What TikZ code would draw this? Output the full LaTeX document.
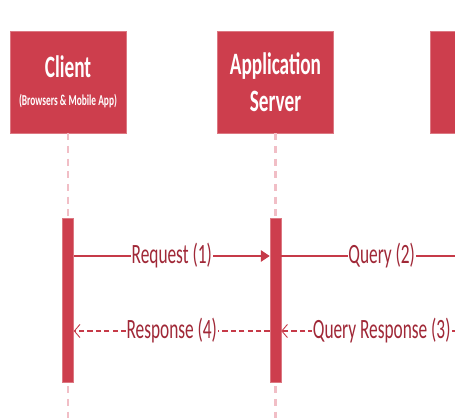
\documentclass[tikz,border=0pt]{standalone}
\usepackage{fontspec}
\setmainfont{Carlito}[FakeStretch=0.62]
\usetikzlibrary{arrows.meta}

\definecolor{boxred}{RGB}{205,62,77}
\definecolor{lblred}{RGB}{160,40,55}
\definecolor{msgred}{RGB}{198,58,72}
\definecolor{lifepink}{RGB}{241,190,198}

\begin{document}
\begin{tikzpicture}[x=0.02cm, y=-0.02cm, node distance=4.15cm,
    actor/.style={rectangle, fill=boxred, draw=boxred!70!white, line width=0.4pt, text=white,
        minimum width=2.32cm, minimum height=2.04cm, align=center,
        font=\bfseries\fontsize{17.7}{21}\selectfont},
    bar/.style={rectangle, fill=boxred, draw=boxred!70!white, line width=0.3pt,
        minimum width=0.22cm, minimum height=3.28cm, inner sep=0pt},
    lifeline/.style={lifepink, line width=1.2pt, dash pattern=on 4pt off 3.2pt},
    call/.style={msgred, line width=0.6pt, -{Triangle[length=5pt, width=6.5pt]}},
    reply/.style={msgred, line width=0.6pt, dash pattern=on 3pt off 1.8pt,
        -{Straight Barb[length=3.2pt, width=7.5pt, line width=0.5pt]}},
    lbl/.style={fill=white, text=lblred, inner sep=0.5pt,
        font=\fontsize{15.9}{19}\selectfont}]
    \useasboundingbox (0,0) rectangle (455,418);
    \clip (0,0) rectangle (455,418);

    % Uczestnicy
    \node[actor] (client) at (68,82) {Client\\[-5pt]{\fontsize{8.6}{9}\selectfont (Browsers \& Mobile App)}};
    \node[actor] (server) [right of=client] {Application\\Server};
    \node[actor] (db) [right of=server, node distance=4.25cm] {};

    % Linie życia
    \coordinate (bottom) at (0,418);
    \draw[lifeline] (client.south) -- (client.south |- bottom);
    \draw[lifeline] (server.south) -- (server.south |- bottom);
    \draw[lifeline] (db.south) -- (db.south |- bottom);

    % Paski aktywności
    \node[bar] (barC) at (client |- 0,300) {};
    \node[bar] (barS) at (server |- 0,300) {};
    \node[bar] (barD) at (db |- 0,300) {};

    % Komunikaty
    \coordinate (req) at (0,256);
    \coordinate (resp) at (0,331);
    \draw[call] (barC.east |- req) -- node[lbl] {Request (1)} (barS.west |- req);
    \draw[msgred, line width=0.6pt] (barS.east |- req) -- node[lbl] {Query (2)} (barD.west |- req);
    \draw[reply] (barD.west |- resp) -- node[lbl] {Query Response (3)} (barS.east |- resp);
    \draw[reply] (barS.west |- resp) -- node[lbl] {Response (4)} (barC.east |- resp);
\end{tikzpicture}
\end{document}
